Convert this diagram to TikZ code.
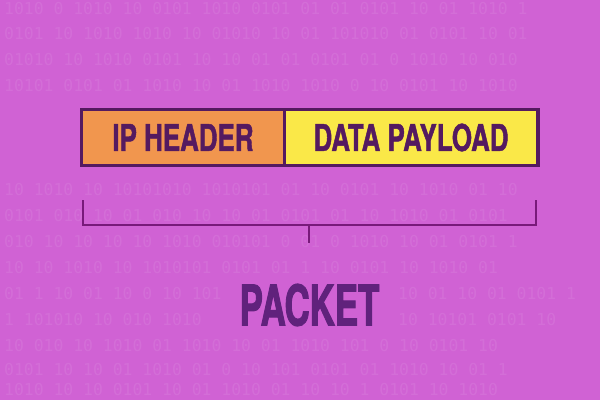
\documentclass[tikz,border=0pt]{standalone}
\usepackage{fontspec}
\usepackage{tikz}
\usetikzlibrary{positioning}
\newfontfamily\boxfont{TeX Gyre Heros}[FakeStretch=0.7,FakeBold=1.2]
\newfontfamily\labelfont{TeX Gyre Heros}[FakeStretch=0.62,FakeBold=1.6]
\newfontfamily\bitsfont{DejaVu Sans Mono}
\definecolor{bgpink}{RGB}{208,98,212}
\definecolor{hdrorange}{RGB}{241,150,78}
\definecolor{loadyellow}{RGB}{250,232,72}
\definecolor{inkpurple}{RGB}{84,26,96}
\definecolor{bracketpurple}{RGB}{120,26,122}
\definecolor{labelpurple}{RGB}{96,34,124}

\begin{document}
\begin{tikzpicture}[x=0.03cm,y=-0.03cm,
	field/.style={draw=inkpurple,line width=3.4pt,minimum height=56*0.03cm,
		text=inkpurple,font=\boxfont\bfseries\fontsize{31.6}{32}\selectfont,anchor=center},
	brace/.style={draw=bracketpurple,line width=2.4pt},
	bits/.style={text=white,opacity=0.08,font=\bitsfont\fontsize{14}{14}\selectfont,anchor=west,inner sep=0pt}]
	% background
	\fill[bgpink] (0,0) rectangle (600,400);
	\useasboundingbox (0,0) rectangle (600,400);
	%% faint binary rows
	\foreach \name/\y/\bits in {r0/9/{1010 0 1010 10 0101 1010 0101 01 01 0101 10 01 1010 1},
		r1/34/{0101 10 1010 1010 10 01010 10 01 101010 01 0101 10 01},
		r2/60/{01010 10 1010 0101 10 10 01 01 0101 01 0 1010 10 010},
		r3/86/{10101 0101 01 1010 10 01 1010 1010 0 10 0101 10 1010},
		r7/190/{10 1010 10 10101010 1010101 01 10 0101 10 1010 01 10},
		r8/216/{0101 010 10 01 010 10 10 01 0101 01 10 1010 01 0101},
		r9/242/{010 10 10 10 10 1010 010101 0 01 0 1010 10 01 0101 1},
		r10/268/{10 10 1010 10 1010101 0101 01 1 10 0101 10 1010 01},
		r13/346/{10 010 10 1010 01 1010 10 01 1010 101 0 10 0101 10},
		r14/370/{0101 10 10 01 1010 01 0 10 101 0101 01 1010 10 01 1},
		r15/390/{1010 10 10 0101 10 01 1010 01 10 10 1 0101 10 1010}}
		\node[bits] (\name) at (4,\y) {\bits};
	\foreach \name/\x/\y/\bits in {r11a/4/294/{01 1 10 01 10 0 10 101},
		r11b/398/294/{10 01 10 01 0101 1},
		r12a/4/320/{1 101010 10 010 1010},
		r12b/398/320/{10 10101 0101 10}}
		\node[bits] (\name) at (\x,\y) {\bits};
	%% the packet fields
	\node[field,fill=hdrorange,minimum width=203*0.03cm] (header) at (183,137.5) {IP HEADER};
	\node[field,fill=loadyellow,minimum width=253*0.03cm,right=-3.4pt of header] (payload) {DATA PAYLOAD};
	%% the bracket
	\coordinate (bl) at (83,200);
	\coordinate (br) at (536,200);
	\coordinate (blc) at (83,225);
	\coordinate (brc) at (536,225);
	\coordinate (mid) at (309,225);
	\coordinate (tip) at (309,243);
	\draw[brace] (bl) -- (blc) -- (brc) -- (br);
	\draw[brace] (mid) -- (tip);
	%% the label
	\node[text=labelpurple,font=\labelfont\bfseries\fontsize{48}{48}\selectfont] (packet) at (309.5,305) {PACKET};
\end{tikzpicture}
\end{document}
